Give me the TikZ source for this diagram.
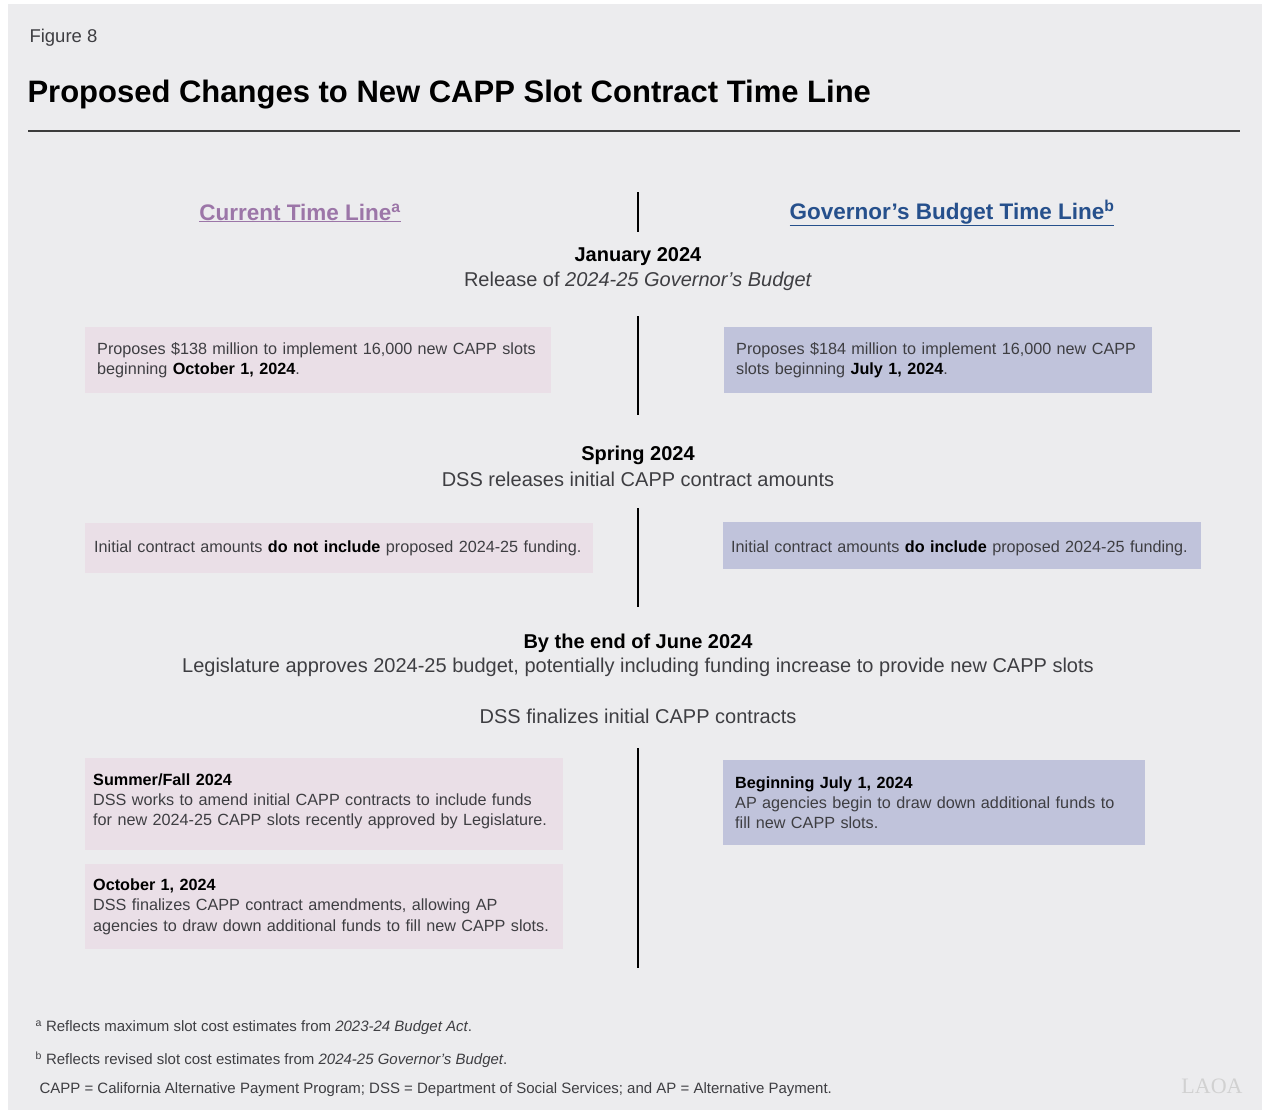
\documentclass[tikz,border=0pt]{standalone}
\usepackage{fontspec}
\setmainfont{Liberation Sans}
\newfontfamily\logofont{Liberation Serif}
\usetikzlibrary{positioning}
\definecolor{pagebg}{RGB}{236,236,238}
\definecolor{curfill}{RGB}{234,223,231}
\definecolor{govfill}{RGB}{192,195,219}
\definecolor{curhead}{RGB}{156,118,168}
\definecolor{govhead}{RGB}{38,80,140}
\definecolor{bodytext}{RGB}{62,62,66}
\definecolor{rulegray}{RGB}{60,60,60}
\newcommand{\bodyfont}{\fontsize{16.2}{20.3}\selectfont}
\newcommand{\eventfont}{\fontsize{20}{24}\selectfont}

\begin{document}
\begin{tikzpicture}
[x=1pt,y=-1pt,
 curbox/.style = {fill = curfill, anchor = north west, inner xsep = 12pt, inner ysep = 0pt, align = left, text = bodytext, font = \bodyfont},
 govbox/.style = {curbox, fill = govfill},
 when/.style = {font = \eventfont\bfseries, text = black},
 what/.style = {font = \eventfont, text = bodytext},
 colhead/.style = {font = \fontsize{22.5}{26}\selectfont\bfseries},
 note/.style = {anchor = west, font = \fontsize{15}{18}\selectfont, text = bodytext},
 spine/.style = {line width = 2pt, black},]
% page
\fill[white] (0,0) rectangle (1262,1114);
\fill[pagebg] (8,4) rectangle (1262,1110);
\useasboundingbox (0,0) rectangle (1262,1114);
% title
\node (fig) at (26,38)[anchor = west, font = \fontsize{18.5}{22}\selectfont, text = bodytext] {Figure 8};
\node (title) at (24,95)[anchor = west, font = \fontsize{31}{36}\selectfont\bfseries] {Proposed Changes to New CAPP Slot Contract Time Line};
\coordinate (ruleL) at (28,131);
\coordinate (ruleR) at (1240,131);
\draw[line width = 2pt, rulegray] (ruleL)--(ruleR);
% column heads
\node (curH) at (300,213)[colhead, text = curhead] {\underline{Current Time Line\textsuperscript{a}}};
\node (govH) at (952,213)[colhead, text = govhead] {\underline{Governor's Budget Time Line\textsuperscript{b}}};
% time line segments
\coordinate (s1a) at (638,192);
\coordinate (s1b) at (638,232);
\coordinate (s2a) at (638,316);
\coordinate (s2b) at (638,415);
\coordinate (s3a) at (638,508);
\coordinate (s3b) at (638,607);
\coordinate (s4a) at (638,748);
\coordinate (s4b) at (638,968);
\draw[spine] (s1a)--(s1b);
\draw[spine] (s2a)--(s2b);
\draw[spine] (s3a)--(s3b);
\draw[spine] (s4a)--(s4b);
% January
\node (jan) at (638,257)[when] {January 2024};
\node (janT) at (638,281)[what] {Release of \textit{2024-25 Governor's Budget}};
\node (cur1) at (85,327)[curbox, minimum height = 66pt, text width = 442pt] {Proposes \$138 million to implement 16,000 new CAPP slots\\beginning \textbf{\color{black}October 1, 2024}.};
\node (gov1) at (724,327)[govbox, minimum height = 66pt, text width = 404pt] {Proposes \$184 million to implement 16,000 new CAPP\\slots beginning \textbf{\color{black}July 1, 2024}.};
% Spring
\node (spr) at (638,455)[when] {Spring 2024};
\node (sprT) at (638,479)[what] {DSS releases initial CAPP contract amounts};
\node (cur2) at (85,523)[curbox, minimum height = 50pt, text width = 490pt, inner xsep = 9pt] {Initial contract amounts \textbf{\color{black}do not include} proposed 2024-25 funding.};
\node (gov2) at (723,522)[govbox, minimum height = 47pt, text width = 462pt, inner xsep = 8pt, text height = 17pt, text depth = 3pt] {Initial contract amounts \textbf{\color{black}do include} proposed 2024-25 funding.};
% June
\node (jun) at (638,643)[when] {By the end of June 2024};
\node (junT) at (638,667)[what] {Legislature approves 2024-25 budget, potentially including funding increase to provide new CAPP slots};
\node (junD) at (638,716)[what] {DSS finalizes initial CAPP contracts};
\node (cur3) at (85,758)[curbox, minimum height = 92pt, text width = 462pt, inner xsep = 8pt, text depth = 50pt] {\textbf{\color{black}Summer/Fall 2024}\\DSS works to amend initial CAPP contracts to include funds\\for new 2024-25 CAPP slots recently approved by Legislature.};
\node (cur4) at (85,864)[curbox, minimum height = 85pt, text width = 462pt, inner xsep = 8pt] {\textbf{\color{black}October 1, 2024}\\DSS finalizes CAPP contract amendments, allowing AP\\agencies to draw down additional funds to fill new CAPP slots.};
\node (gov3) at (723,760)[govbox, minimum height = 85pt, text width = 398pt, inner xsep = 12pt] {\textbf{\color{black}Beginning July 1, 2024}\\AP agencies begin to draw down additional funds to\\fill new CAPP slots.};
% notes
\node (noteA) at (32,1028)[note] {\textsuperscript{a} Reflects maximum slot cost estimates from \textit{2023-24 Budget Act}.};
\node (noteB) at (32,1060)[note] {\textsuperscript{b} Reflects revised slot cost estimates from \textit{2024-25 Governor's Budget}.};
\node (noteC) at (36,1090)[note] {CAPP = California Alternative Payment Program; DSS = Department of Social Services; and AP = Alternative Payment.};
\node (logo) at (1212,1086)[font = \logofont\fontsize{22}{24}\selectfont, text = black!18] {LAOA};
\end{tikzpicture}
\end{document}
